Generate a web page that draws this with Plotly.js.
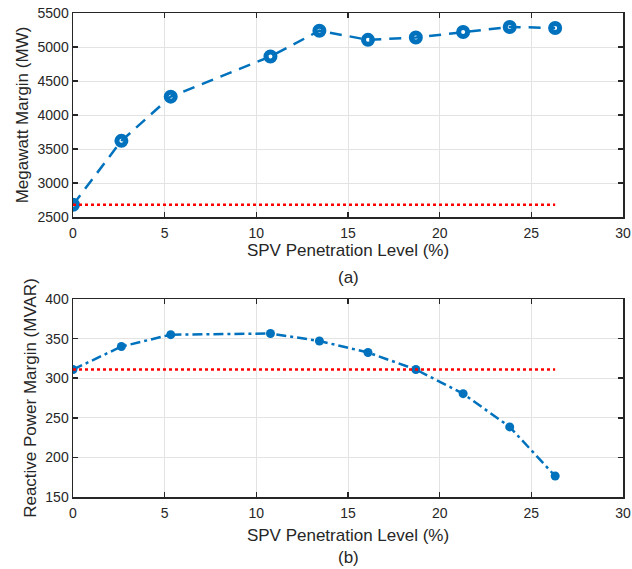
<!DOCTYPE html>
<html>
<head>
<meta charset="utf-8">
<script src="https://cdn.plot.ly/plotly-3.0.1.min.js"></script>
<style>html,body{margin:0;padding:0;background:#fff;}#chart{width:632px;height:569px;}</style>
</head>
<body>
<div id="chart"></div>
<script>
// SPV penetration level (%)
var penetration = [0, 2.64, 5.33, 10.77, 13.44, 16.09, 18.70, 21.28, 23.82, 26.30];
// (a) Megawatt margin (MW)
var megawattMargin = [2680, 3620, 4270, 4860, 5240, 5105, 5140, 5220, 5295, 5280];
// (b) Reactive power margin (MVAR)
var reactiveMargin = [311, 340, 355, 356.5, 347, 332.5, 311, 280.5, 238.5, 176.5];
// Base case reference lines
var baseX = [0, 26.30];
var baseMW = [2680, 2680];
var baseMVAR = [311, 311];
var xTicks = [0, 5, 10, 15, 20, 25, 30];
var mwTicks = [2500, 3000, 3500, 4000, 4500, 5000, 5500];
var mvarTicks = [150, 200, 250, 300, 350, 400];

var blue = '#0072BD';
var txt = '#262626';
var font = 'Arial, "Liberation Sans", Helvetica, sans-serif';

var traces = [
  {x: penetration, y: megawattMargin, xaxis: 'x', yaxis: 'y', mode: 'lines+markers',
   line: {color: blue, width: 2.5, dash: '12px,8px'},
   marker: {symbol: 'circle-open', size: 9, color: blue, line: {color: blue, width: 5}}},
  {x: baseX, y: baseMW, xaxis: 'x', yaxis: 'y', mode: 'lines',
   line: {color: '#FF0000', width: 2.7, dash: '3px,3px'}},
  {x: penetration, y: reactiveMargin, xaxis: 'x2', yaxis: 'y2', mode: 'lines+markers',
   line: {color: blue, width: 2.5, dash: '10px,4px,3px,4px'},
   marker: {symbol: 'circle', size: 9, color: blue}},
  {x: baseX, y: baseMVAR, xaxis: 'x2', yaxis: 'y2', mode: 'lines',
   line: {color: '#FF0000', width: 2.7, dash: '3px,3px'}}
];

function xax(anchor, standoff) {
  return {
    anchor: anchor, domain: [0, 1], range: [0, 30], tickvals: xTicks,
    ticks: 'inside', ticklen: 5, tickwidth: 1.5, tickcolor: txt, ticklabelstandoff: 3,
    showline: true, linecolor: txt, linewidth: 1.5, mirror: 'ticks',
    showgrid: true, gridcolor: '#e3e3e3', gridwidth: 1, zeroline: false,
    tickfont: {family: font, size: 14, color: txt},
    title: {text: 'SPV Penetration Level (%)', font: {family: font, size: 17, color: txt}, standoff: standoff}
  };
}
function yax(anchor, dom, range, vals, title) {
  return {
    anchor: anchor, domain: dom, range: range, tickvals: vals,
    ticks: 'inside', ticklen: 5, tickwidth: 1.5, tickcolor: txt,
    showline: true, linecolor: txt, linewidth: 1.5, mirror: 'ticks',
    showgrid: true, gridcolor: '#e3e3e3', gridwidth: 1, zeroline: false,
    tickfont: {family: font, size: 14, color: txt},
    title: {text: title, font: {family: font, size: 17, color: txt}, standoff: 4}
  };
}

var layout = {
  width: 632, height: 569,
  margin: {l: 73, r: 9, t: 13, b: 72},
  paper_bgcolor: '#fff', plot_bgcolor: '#fff',
  showlegend: false,
  xaxis: xax('y', 4),
  yaxis: yax('x', [0.5785, 1], [2500, 5500], mwTicks, 'Megawatt Margin (MW)'),
  xaxis2: xax('y2', 9),
  yaxis2: yax('x2', [0, 0.409], [150, 400], mvarTicks, 'Reactive Power Margin (MVAR)'),
  annotations: [
    {text: '(a)', xref: 'paper', yref: 'paper', x: 0.5, y: 0.4545, showarrow: false,
     xanchor: 'center', yanchor: 'middle', font: {family: font, size: 17, color: txt}},
    {text: '(b)', xref: 'paper', yref: 'paper', x: 0.5, y: -0.124, showarrow: false,
     xanchor: 'center', yanchor: 'middle', font: {family: font, size: 17, color: txt}}
  ]
};

Plotly.newPlot('chart', traces, layout, {displayModeBar: false, staticPlot: true});
</script>
</body>
</html>
